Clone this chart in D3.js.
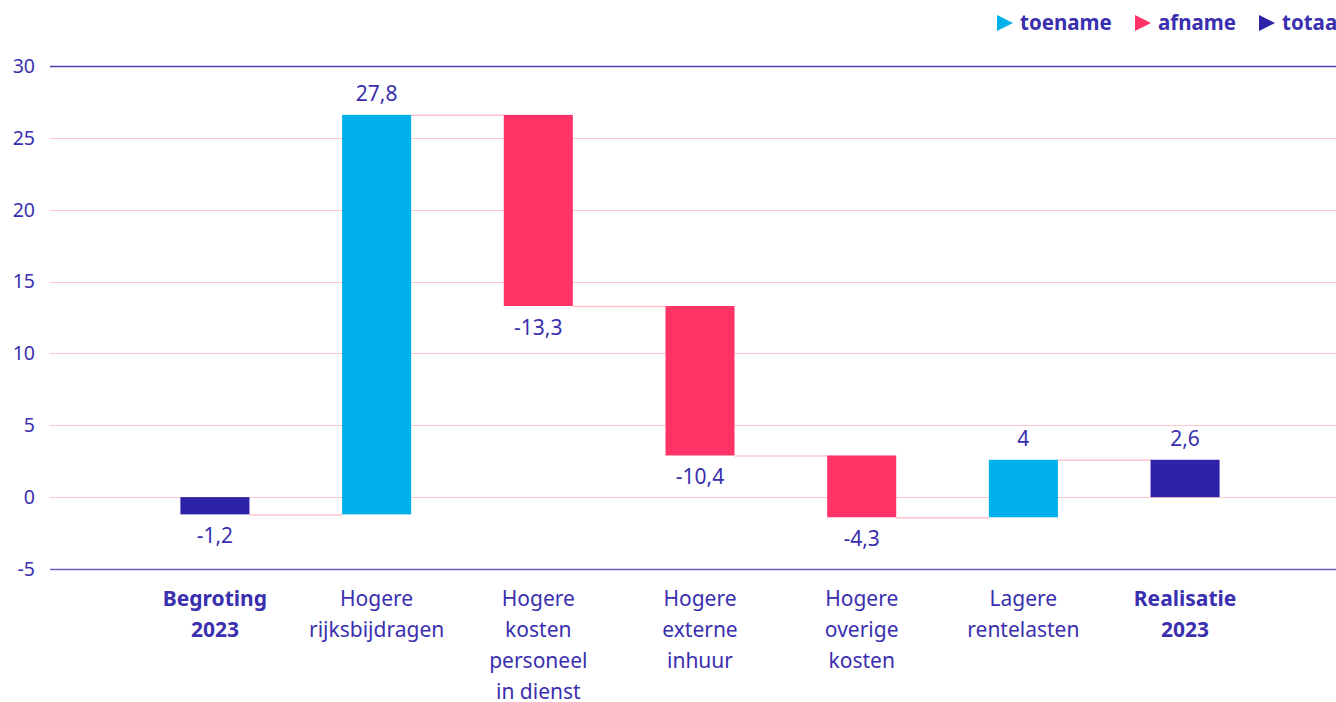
<!DOCTYPE html>
<html><head><meta charset="utf-8">
<script src="https://cdn.jsdelivr.net/npm/d3@7"></script>
<style>html,body{margin:0;padding:0;background:#fff;overflow:hidden}svg{display:block;font-family:"Noto Sans",sans-serif}</style>
</head><body>
<svg id="c" width="1336" height="702"></svg>
<script>
const categories = [["Begroting","2023"],["Hogere","rijksbijdragen"],["Hogere","kosten","personeel","in dienst"],["Hogere","externe","inhuur"],["Hogere","overige","kosten"],["Lagere","rentelasten"],["Realisatie","2023"]];
const values = [-1.2, 27.8, -13.3, -10.4, -4.3, 4, 2.6];
const types = ["totaal","delta","delta","delta","delta","delta","totaal"];
const labels = ["-1,2","27,8","-13,3","-10,4","-4,3","4","2,6"];
const yTicks = [-5,0,5,10,15,20,25,30];
const legendItems = ["toename","afname","totaa"];

const C = {toename:"#00b0ea", afname:"#ff3366", totaal:"#2e22a8", text:"#3a2fae", grid:"#ffc4cc"};
const svg = d3.select("#c");
const y = d3.scaleLinear().domain([-5,30]).range([569,66]);
const x = d3.scaleBand().domain(d3.range(values.length)).range([134,1266]).paddingInner(0.573).paddingOuter(0.287);

let run = 0;
const bars = values.map((v,i)=>{
  let y0,y1,kind;
  if(types[i]==="totaal"){ y0=0; y1=(i===0?v:run); if(i===0) run=v; kind="totaal"; }
  else { y0=run; y1=run+v; run=y1; kind=v>=0?"toename":"afname"; }
  return {i,y0,y1,kind,v};
});
bars[bars.length-1].y1 = values[values.length-1];

svg.append("g").selectAll("line").data(yTicks).join("line")
  .attr("x1",50).attr("x2",1336)
  .attr("y1",d=>Math.round(y(d))+0.5).attr("y2",d=>Math.round(y(d))+0.5)
  .attr("stroke",d=>d===30?"#4a40b4":(d===-5?"#6b63c6":C.grid)).attr("stroke-width",d=>(d===30||d===-5)?1.6:1.2);

svg.append("g").selectAll("text").data(yTicks).join("text")
  .attr("x",35).attr("y",d=>y(d)).attr("dy","0.35em").attr("text-anchor","end")
  .attr("font-size",19.5).attr("fill",C.text).text(d=>d);

svg.append("g").selectAll("line").data(bars.slice(0,-1)).join("line")
  .attr("x1",d=>x(d.i)+x.bandwidth()).attr("x2",d=>x(d.i+1))
  .attr("y1",d=>y(d.y1)+0.5).attr("y2",d=>y(d.y1)+0.5)
  .attr("stroke",C.grid).attr("stroke-width",1.5);

svg.append("g").selectAll("rect").data(bars).join("rect")
  .attr("x",d=>x(d.i)).attr("width",x.bandwidth())
  .attr("y",d=>y(Math.max(d.y0,d.y1))).attr("height",d=>Math.abs(y(d.y0)-y(d.y1)))
  .attr("fill",d=>C[d.kind]);

svg.append("g").selectAll("text").data(bars).join("text")
  .attr("x",d=>x(d.i)+x.bandwidth()/2)
  .attr("y",d=>d.v>=0? y(Math.max(d.y0,d.y1))-14 : y(Math.min(d.y0,d.y1))+29)
  .attr("text-anchor","middle").attr("font-size",21).attr("fill",C.text)
  .text((d,i)=>labels[i]);

const cat = svg.append("g").selectAll("text").data(categories).join("text")
  .attr("x",(d,i)=>x(i)+x.bandwidth()/2).attr("y",605.5)
  .attr("text-anchor","middle").attr("font-size",21).attr("fill",C.text)
  .attr("font-weight",(d,i)=>types[i]==="totaal"?"bold":"normal");
cat.each(function(d){
  d3.select(this).selectAll("tspan").data(d).join("tspan")
    .attr("x",d3.select(this).attr("x")).attr("dy",(t,j)=>j===0?0:31.2).text(t=>t);
});

const lx = [997,1135,1259];
const lc = [C.toename,C.afname,C.totaal];
const lg = svg.append("g").selectAll("g").data(legendItems).join("g")
  .attr("transform",(d,i)=>`translate(${lx[i]},23)`);
lg.append("path").attr("d","M0,-8L16,0L0,8Z").attr("fill",(d,i)=>lc[i]);
lg.append("text").attr("x",23).attr("dy","0.35em").attr("font-size",20.5).attr("font-weight","bold")
  .attr("fill",C.text).text(d=>d);
</script>
</body></html>
